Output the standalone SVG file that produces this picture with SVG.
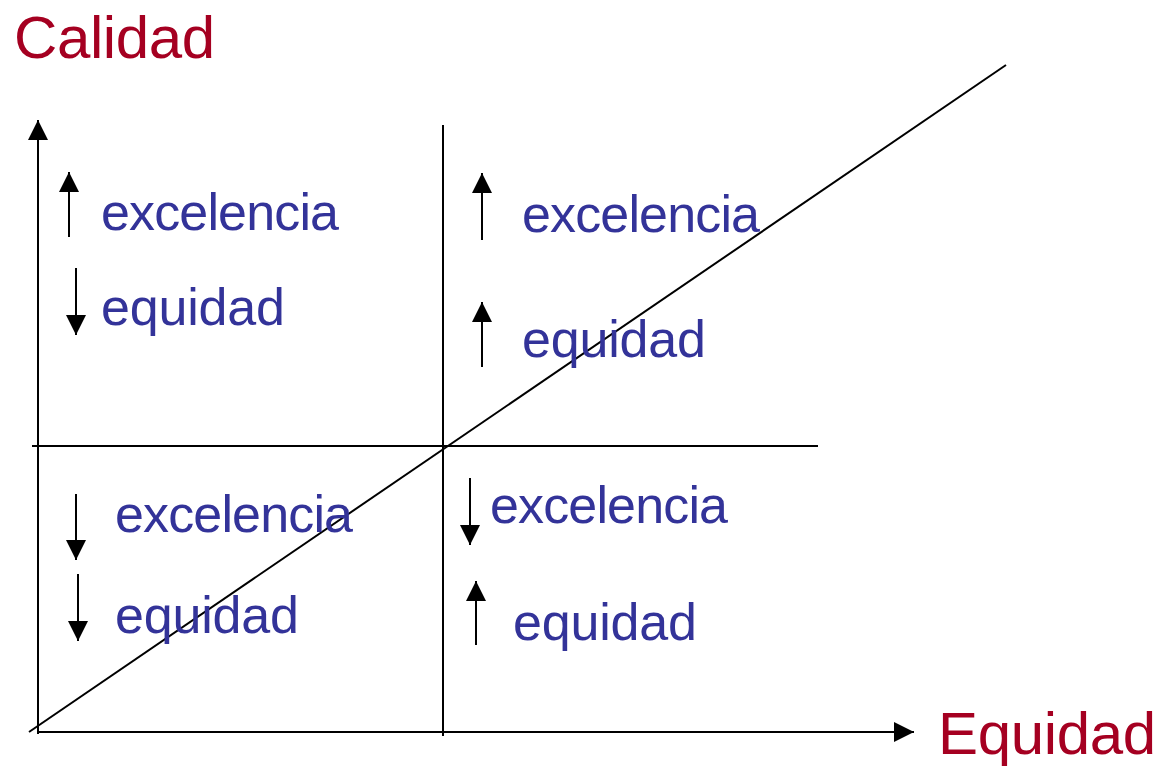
<svg xmlns="http://www.w3.org/2000/svg" width="1164" height="768" viewBox="0 0 1164 768">
<style>
.ax{stroke:#000;stroke-width:2;fill:none}
.ar{stroke:#000;stroke-width:2;fill:none;marker-end:url(#ah)}
.t{font-family:"Liberation Sans",Arial,sans-serif;font-size:52px;fill:#333399}
.h{font-family:"Liberation Sans",Arial,sans-serif;font-size:60px;fill:#A50021}
</style>
<defs>
<marker id="ah" viewBox="0 0 20 20" refX="20" refY="10" markerWidth="20" markerHeight="21" markerUnits="userSpaceOnUse" orient="auto">
<path d="M0,0 L20,10 L0,20 z" fill="#000"/>
</marker>
</defs>
<rect width="1164" height="768" fill="#fff"/>
<g id="connectors">
<line class="ar" x1="38" y1="734" x2="38" y2="120"/>
<line class="ar" x1="37" y1="732" x2="914" y2="732"/>
<line class="ax" x1="443" y1="125" x2="443" y2="736"/>
<line class="ax" x1="32" y1="446" x2="818" y2="446"/>
<line class="ax" x1="29" y1="732" x2="1006" y2="65"/>
<line class="ar" x1="69" y1="237" x2="69" y2="172"/>
<line class="ar" x1="76" y1="268" x2="76" y2="335"/>
<line class="ar" x1="482" y1="240" x2="482" y2="173"/>
<line class="ar" x1="482" y1="367" x2="482" y2="302"/>
<line class="ar" x1="76" y1="494" x2="76" y2="560"/>
<line class="ar" x1="78" y1="574" x2="78" y2="641"/>
<line class="ar" x1="470" y1="478" x2="470" y2="545"/>
<line class="ar" x1="476" y1="645" x2="476" y2="581"/>
</g>
<g id="axis-y-label"><text class="h" x="14" y="58" textLength="201">Calidad</text></g>
<g id="axis-x-label"><text class="h" x="938" y="754" textLength="218">Equidad</text></g>
<g id="q-top-left">
<text class="t" x="101" y="230" textLength="238">excelencia</text>
<text class="t" x="101" y="325" textLength="184">equidad</text>
</g>
<g id="q-top-right">
<text class="t" x="522" y="232" textLength="238">excelencia</text>
<text class="t" x="522" y="357" textLength="184">equidad</text>
</g>
<g id="q-bottom-left">
<text class="t" x="115" y="532" textLength="238">excelencia</text>
<text class="t" x="115" y="633" textLength="184">equidad</text>
</g>
<g id="q-bottom-right">
<text class="t" x="490" y="523" textLength="238">excelencia</text>
<text class="t" x="513" y="640" textLength="184">equidad</text>
</g>
</svg>
